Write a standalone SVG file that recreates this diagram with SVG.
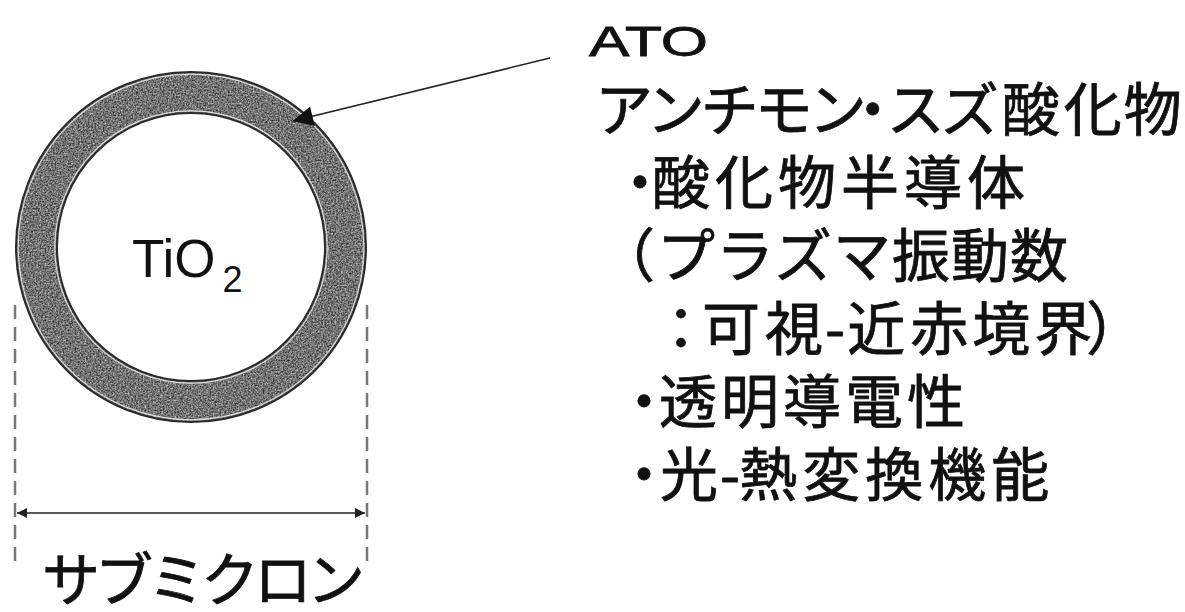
<svg xmlns="http://www.w3.org/2000/svg" width="1185" height="612" viewBox="0 0 1185 612">
  <style>
    .jp { font-family: "Noto Sans CJK JP", "Noto Sans", sans-serif; font-size: 58px; fill: #111; stroke: #111; stroke-width: 0.8; }
    .lat { font-family: "Liberation Sans", Arial, sans-serif; fill: #111; }
    .edge { fill: none; stroke: #2a2a2a; stroke-width: 2; }
    .hl { fill: none; stroke: #dcdcdc; stroke-width: 1.2; }
    .dash { fill: none; stroke: #777; stroke-width: 2.5; stroke-dasharray: 14 8; }
    .conn { fill: none; stroke: #222; stroke-width: 1.6; }
  </style>
  <defs>
    <filter id="grain" x="0" y="0" width="100%" height="100%" color-interpolation-filters="sRGB">
      <feTurbulence type="fractalNoise" baseFrequency="0.6" numOctaves="2" seed="4" result="n"/>
      <feColorMatrix in="n" type="matrix" values="0.9 0 0 0 0  0.9 0 0 0 0  0.9 0 0 0 0  0 0 0 0 1" result="g"/>
      <feComposite in="g" in2="SourceGraphic" operator="in"/>
    </filter>
    <marker id="ah" viewBox="0 0 10 10" refX="10" refY="5" markerWidth="14" markerHeight="10" markerUnits="userSpaceOnUse" orient="auto-start-reverse">
      <path d="M0,0 L10,5 L0,10 z" fill="#222"/>
    </marker>
    <marker id="ah2" viewBox="0 0 10 10" refX="10" refY="5" markerWidth="26" markerHeight="20" markerUnits="userSpaceOnUse" orient="auto">
      <path d="M0,0 L10,5 L0,10 z" fill="#111"/>
    </marker>
  </defs>
  <rect width="1185" height="612" fill="#fff"/>

  <g id="particle">
    <path d="M191,72 a175,175 0 1,0 0.01,0 z M191,113 a134,134 0 1,1 -0.01,0 z" fill="#6a6a6a" fill-rule="evenodd" filter="url(#grain)"/>
    <circle cx="191" cy="247" r="175" class="edge"/>
    <circle cx="191" cy="247" r="172.8" class="hl"/>
    <circle cx="191" cy="247" r="136.2" class="hl"/>
    <circle cx="191" cy="247" r="134" class="edge"/>
    <text class="lat" x="132" y="277" font-size="53">TiO<tspan font-size="36" dx="7" dy="15">2</tspan></text>
  </g>

  <g id="ato-label">
    <text class="lat" x="589" y="56" font-size="43" stroke="#111" stroke-width="0.8" textLength="119" lengthAdjust="spacingAndGlyphs">ATO</text>
    <text class="jp" x="595" y="131" dx="0 -4 -4 -4 -4 -23 -15 -4 3 4 2">アンチモン・スズ酸化物</text>
    <text class="jp" x="611" y="204" dx="0 -17 5 5 5 5 5">・酸化物半導体</text>
    <text class="jp" x="597" y="277" dx="0 2 1 1 1 1 1 1">（プラズマ振動数</text>
    <text class="jp" x="652" y="350" dx="0 -8 5 2 2 5 4 4 -6">：可視-近赤境界）</text>
    <text class="jp" x="615" y="423" dx="0 -14 4 4 4 4">・透明導電性</text>
    <text class="jp" x="615" y="496" dx="0 -13 2 -1 5 5 5 5">・光-熱変換機能</text>
  </g>

  <g id="dimension">
    <line x1="15" y1="305" x2="15" y2="563" class="dash"/>
    <line x1="367" y1="305" x2="367" y2="563" class="dash"/>
    <text class="jp" x="42" y="601" font-size="56" dx="0 -5 -5 -5 -5 -5">サブミクロン</text>
  </g>

  <g id="connectors">
    <line x1="17" y1="513" x2="365" y2="513" class="conn" marker-start="url(#ah)" marker-end="url(#ah)"/>
    <line x1="550" y1="58" x2="293" y2="121" class="conn" marker-end="url(#ah2)"/>
  </g>
</svg>
